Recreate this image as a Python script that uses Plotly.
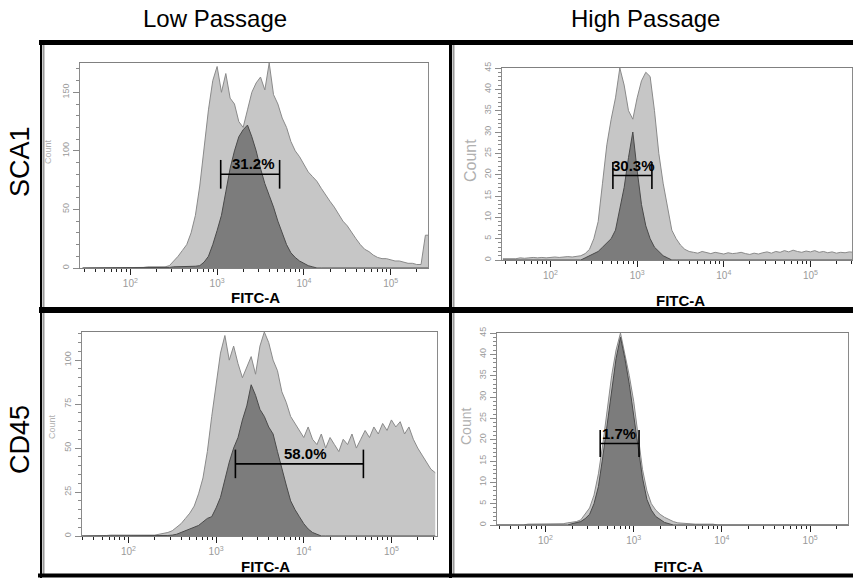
import numpy as np
import plotly.graph_objects as go

W, H = 853, 579

# ---- data: FITC-A histogram bins (log10 of intensity), 0.05-decade steps from 10^1.45 to 10^5.50
LOG_BINS = np.round(np.arange(1.45, 5.501, 0.05), 2)
FITC = 10 ** LOG_BINS

P1_LIGHT = [0, 0, 0, 0, 0, 0, 0.5, 0.5, 0, 0.5,
            0.5, 0.5, 0.5, 0.5, 0.5, 1, 1, 1, 1, 1,
            2, 6, 10, 15, 20, 30, 45, 70, 105, 135,
            160, 172, 150, 166, 145, 140, 125, 120, 135, 150,
            158, 163, 152, 175, 148, 140, 128, 120, 108, 100,
            95, 88, 82, 78, 74, 68, 62, 57, 52, 46,
            40, 36, 30, 25, 20, 16, 14, 11, 9, 8,
            8, 7, 6, 6, 5, 4, 4, 3, 3, 28,
            28, 28]
P1_DARK = [0, 0, 0, 0, 0, 0, 0, 0, 0, 0,
           0, 0, 0, 0, 0, 0, 0, 0, 0, 0.5,
           0.5, 1, 1, 1, 1, 1.5, 1.5, 2, 5, 10,
           20, 32, 45, 65, 85, 100, 112, 118, 122, 112,
           100, 85, 72, 62, 52, 40, 30, 20, 13, 9,
           6, 4, 2, 1, 0, 0, 0, 0, 0, 0,
           0, 0, 0, 0, 0, 0, 0, 0, 0, 0,
           0, 0, 0, 0, 0, 0, 0, 0, 0, 0,
           0, 0]
P2_LIGHT = [0.3, 0.3, 0.4, 0.3, 0.5, 0.4, 0.5, 0.6, 0.5, 0.6,
            0.5, 0.6, 0.7, 0.6, 0.7, 0.8, 0.7, 0.8, 1, 1.5,
            2.5, 5, 9, 18, 27, 33, 38, 45, 41, 35,
            33, 38, 42, 44, 43, 35, 25, 18, 12, 7,
            5, 3.5, 2.5, 2, 1.8, 1.6, 2.0, 1.7, 1.5, 1.8,
            1.6, 1.4, 1.7, 1.5, 1.6, 1.8, 1.5, 1.3, 1.6, 1.4,
            1.7, 1.9, 1.6, 2.0, 1.8, 2.2, 1.9, 2.3, 2.0, 1.8,
            2.1, 1.9, 2.2, 1.8, 2.0, 1.7, 1.9, 1.6, 1.8, 1.7,
            1.9, 1.8]
P2_DARK = [0, 0, 0, 0, 0, 0, 0, 0, 0, 0,
           0, 0, 0, 0, 0, 0, 0, 0, 0, 0.5,
           1, 1.5, 2, 3, 4, 5, 7, 12, 17, 24,
           30, 21, 13, 8, 5, 3, 2, 1, 0.5, 0,
           0, 0, 0, 0, 0, 0, 0, 0, 0, 0,
           0, 0, 0, 0, 0, 0, 0, 0, 0, 0,
           0, 0, 0, 0, 0, 0, 0, 0, 0, 0,
           0, 0, 0, 0, 0, 0, 0, 0, 0, 0,
           0, 0]
P3_LIGHT = [0, 0, 0, 0.3, 0.3, 0.3, 0.3, 0.5, 0.3, 0.5,
            0.5, 0.5, 0.5, 0.5, 0.5, 0.5, 0.5, 0.5, 1, 1.5,
            2, 3, 5, 7, 10, 13, 17, 24, 33, 48,
            68, 87, 104, 114, 100, 108, 98, 90, 96, 102,
            92, 108, 116, 110, 100, 94, 82, 76, 68, 64,
            60, 56, 62, 55, 52, 58, 50, 56, 52, 48,
            55, 52, 58, 50, 55, 60, 56, 62, 58, 64,
            60, 66, 62, 65, 58, 62, 55, 50, 46, 42,
            38, 36]
P3_DARK = [0, 0, 0, 0, 0, 0, 0, 0, 0, 0,
           0, 0, 0, 0, 0, 0, 0, 0, 0, 0.3,
           0.3, 0.5, 1, 2, 3, 4, 5, 6, 8, 10,
           11, 16, 22, 32, 42, 50, 56, 66, 74, 86,
           80, 72, 68, 62, 58, 48, 38, 29, 20, 15,
           11, 7, 4, 2, 1, 0, 0, 0, 0, 0,
           0, 0, 0, 0, 0, 0, 0, 0, 0, 0,
           0, 0, 0, 0, 0, 0, 0, 0, 0, 0,
           0, 0]
P4_LIGHT = [0, 0, 0, 0, 0, 0, 0, 0.2, 0.2, 0.2,
            0.3, 0.2, 0.3, 0.3, 0.3, 0.3, 0.5, 0.6, 0.8, 1.2,
            2.5, 4, 7, 12, 19, 27, 35, 41, 45, 40,
            35, 29, 21, 13, 8, 5, 3.5, 2.5, 1.8, 1.2,
            0.8, 0.5, 0.4, 0.3, 0.3, 0.2, 0.2, 0.2, 0.2, 0.2,
            0, 0, 0, 0, 0, 0, 0, 0, 0, 0,
            0, 0, 0, 0, 0, 0, 0, 0, 0, 0,
            0, 0, 0, 0, 0, 0, 0, 0, 0, 0,
            0, 0]
P4_DARK = [0, 0, 0, 0, 0, 0, 0, 0, 0, 0,
           0, 0, 0, 0, 0, 0, 0, 0.3, 0.5, 0.8,
           1.5, 2.5, 5, 9, 16, 24, 32, 39, 44, 39,
           33, 26, 18, 11, 6, 3.5, 2, 1.2, 0.6, 0.3,
           0, 0, 0, 0, 0, 0, 0, 0, 0, 0,
           0, 0, 0, 0, 0, 0, 0, 0, 0, 0,
           0, 0, 0, 0, 0, 0, 0, 0, 0, 0,
           0, 0, 0, 0, 0, 0, 0, 0, 0, 0,
           0, 0]

LIGHT = [P1_LIGHT, P2_LIGHT, P3_LIGHT, P4_LIGHT]
DARK = [P1_DARK, P2_DARK, P3_DARK, P4_DARK]

GATE_LO = [1100, 525, 1660, 417]
GATE_HI = [5250, 1480, 47900, 1150]
GATE_Y = [80, 19.8, 41, 19.1]
GATE_TEXT = ["31.2%", "30.3%", "58.0%", "1.7%"]
GATE_LABEL_X = [2630, 912, 10500, 676]

COL_TITLES = ["Low Passage", "High Passage"]
ROW_TITLES = ["SCA1", "CD45"]
X_TICKVALS = [1e2, 1e3, 1e4, 1e5]
X_TICKTEXT = ["10<sup>2</sup>", "10<sup>3</sup>", "10<sup>4</sup>", "10<sup>5</sup>"]
Y_MAX = [175, 45, 116, 45]
Y_DTICK = [50, 5, 25, 5]
Y_MINOR = [10, 1, 5, 1]

# ---- layout (pixel boxes of each plot area: left, right, top, bottom)
BOX = [(80, 428, 63, 268), (502, 852, 68, 260), (82, 437, 332, 536), (497, 848, 333, 525)]
X_RANGE = [(1.42, 5.43), (1.44, 5.48), (1.47, 5.52), (1.45, 5.43)]

def px(x):
    return x / W

def py(y):
    return 1 - y / H

FONT = "Liberation Sans, Arial, sans-serif"
minor_x = [k * 10 ** d for d in range(1, 6) for k in range(2, 10)]

fig = go.Figure()
layout = dict(width=W, height=H, margin=dict(l=0, r=0, t=0, b=0), autosize=False,
              paper_bgcolor="white", plot_bgcolor="white", showlegend=False,
              font=dict(family=FONT))
annotations = []
shapes = []

def note(x, y, text, size, color="black", angle=0, family=FONT):
    annotations.append(dict(x=px(x), y=py(y), xref="paper", yref="paper", text=text,
                            textangle=angle, showarrow=False, xanchor="center",
                            yanchor="middle", font=dict(family=family, size=size, color=color)))

for i in range(4):
    sfx = "" if i == 0 else str(i + 1)
    xa, ya = "x" + sfx, "y" + sfx
    l, r, t, b = BOX[i]
    fig.add_trace(go.Scatter(x=FITC, y=LIGHT[i], xaxis=xa, yaxis=ya, mode="lines",
                             fill="tozeroy", fillcolor="#c6c6c6",
                             line=dict(color="#8a8a8a", width=1), hoverinfo="skip"))
    fig.add_trace(go.Scatter(x=FITC, y=DARK[i], xaxis=xa, yaxis=ya, mode="lines",
                             fill="tozeroy", fillcolor="#7c7c7c",
                             line=dict(color="#4a4a4a", width=1), hoverinfo="skip"))
    h = 0.07 * Y_MAX[i]
    lo, hi, gy = GATE_LO[i], GATE_HI[i], GATE_Y[i]
    fig.add_trace(go.Scatter(x=[lo, lo, None, lo, hi, None, hi, hi],
                             y=[gy - h, gy + h, None, gy, gy, None, gy - h, gy + h],
                             xaxis=xa, yaxis=ya, mode="lines",
                             line=dict(color="black", width=1.6), hoverinfo="skip"))
    annotations.append(dict(x=np.log10(GATE_LABEL_X[i]), y=gy, xref=xa, yref=ya,
                            text="<b>%s</b>" % GATE_TEXT[i], showarrow=False,
                            xanchor="center", yanchor="bottom", yshift=0,
                            font=dict(family=FONT, size=15, color="black")))
    layout["xaxis" + sfx] = dict(
        type="log", range=list(X_RANGE[i]), domain=[px(l), px(r)], anchor=ya,
        showline=True, linecolor="#808080", linewidth=1, mirror=True,
        ticks="outside", ticklen=6, tickcolor="#222", tickwidth=1,
        tickmode="array", tickvals=X_TICKVALS, ticktext=X_TICKTEXT,
        tickfont=dict(family=FONT, size=10, color="#9a9a9a"),
        minor=dict(ticks="outside", ticklen=3, tickcolor="#222", tickmode="array",
                   tickvals=minor_x),
        showgrid=False, zeroline=False, automargin=False, fixedrange=True)
    layout["yaxis" + sfx] = dict(
        range=[0, Y_MAX[i]], domain=[py(b), py(t)], anchor=xa,
        showline=True, linecolor="#8a8a8a", linewidth=1, mirror=True,
        ticks="outside", ticklen=6, tickcolor="#8a8a8a", dtick=Y_DTICK[i], tick0=0,
        tickangle=-90, tickfont=dict(family=FONT, size=9, color="#9a9a9a"),
        minor=dict(ticks="outside", ticklen=3, tickcolor="#8a8a8a", dtick=Y_MINOR[i]),
        showgrid=False, zeroline=False, automargin=False, fixedrange=True)

# "Count" axis titles
COUNT_POS = [(48, 152, 9), (470, 161, 16), (52, 427, 9), (466, 427, 14)]
for (cx, cy, cs) in COUNT_POS:
    note(cx, cy, "Count", cs, color="#b0b0b0", angle=-90)
# FITC-A labels
FITC_POS = [(255, 297), (680, 300), (265, 566), (678, 566)]
for (fx, fy) in FITC_POS:
    note(fx, fy, "<b>FITC-A</b>", 15)
# column / row titles
for txt, cx in zip(COL_TITLES, [215, 645]):
    note(cx, 19, txt, 24)
for txt, cy in zip(ROW_TITLES, [162, 440]):
    note(20, cy, txt, 27, angle=-90)

# table borders
def hline(y, x0, x1, w, c="black"):
    shapes.append(dict(type="line", xref="paper", yref="paper", x0=px(x0), x1=px(x1),
                       y0=py(y), y1=py(y), line=dict(color=c, width=w)))

def vline(x, y0, y1, w, c="black"):
    shapes.append(dict(type="line", xref="paper", yref="paper", x0=px(x), x1=px(x),
                       y0=py(y0), y1=py(y1), line=dict(color=c, width=w)))

vline(43.5, 42, 576, 2, "#9a9a9a")
vline(453.5, 42, 576, 2, "#9a9a9a")
vline(41, 40, 578, 2)
vline(450.5, 40, 578, 3)
hline(42.5, 39, 853, 5)
hline(310, 39, 853, 6)
hline(575.5, 38, 853, 4)

layout["annotations"] = annotations
layout["shapes"] = shapes
fig.update_layout(**layout)
fig.write_html("out.html", config={"displayModeBar": False},
               post_script="document.body.style.margin='0px';document.body.style.overflow='hidden';")
